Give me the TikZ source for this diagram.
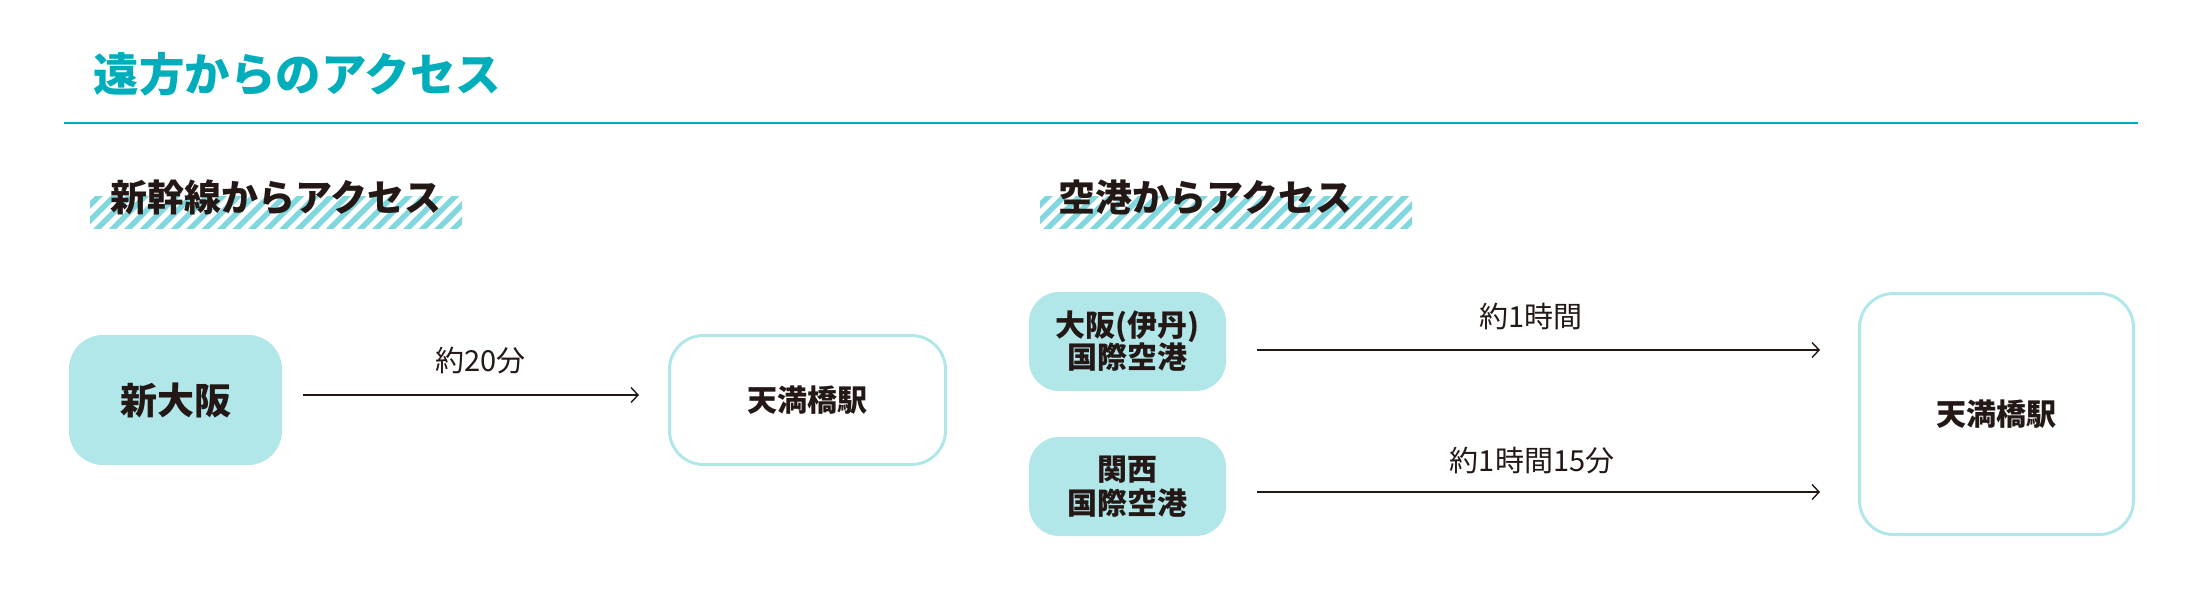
\documentclass[tikz,border=0pt]{standalone}
\usepackage{fontspec}
\setmainfont{Noto Sans CJK JP}
\usetikzlibrary{arrows.meta,calc}
\definecolor{tealmain}{HTML}{00AEBB}
\definecolor{pale}{HTML}{B2E7E9}
\definecolor{stripecol}{HTML}{80D8DE}
\definecolor{ink}{HTML}{231815}
\begin{document}
\begin{tikzpicture}[x=1pt,y=-1pt,
  startbox/.style={fill=pale, rounded corners=34pt, inner sep=0pt, text=ink, align=center},
  endbox/.style={draw=pale, line width=3pt, fill=white, rounded corners=34pt, inner sep=0pt, text=ink,
    font=\fontsize{30}{36}\selectfont\bfseries},
  conn/.style={draw=ink, line width=1.4pt, -{Straight Barb[length=7pt,width=15pt,line width=1.4pt]}},
  lbl/.style={text=ink, inner sep=0pt, font=\fontsize{29}{34}\selectfont},
  heading/.style={text=ink, inner sep=0pt, font=\fontsize{37}{44}\selectfont\bfseries},
  stripeline/.style={draw=stripecol, line width=5.5pt}
]
\useasboundingbox (0,0) rectangle (2194,602);

% title
\node[text=tealmain, inner sep=0pt, font=\fontsize{45.5}{54}\selectfont\bfseries] (title) at (297.5,74) {遠方からのアクセス};
\draw[tealmain, line width=2.5pt] (64,123) -- (2138,123);

% heading stripes
\begin{scope}
  \clip (90,196) rectangle (462,228);
  \foreach \i in {0,...,28} {
    \draw[stripeline] ({62+15.5*\i},233) -- ({104+15.5*\i},191);
  }
\end{scope}
\begin{scope}
  \clip (1040,196) rectangle (1412,228);
  \foreach \i in {0,...,28} {
    \draw[stripeline] ({1012+15.5*\i},233) -- ({1054+15.5*\i},191);
  }
\end{scope}
\node[heading] (h1) at (276,197) {新幹線からアクセス};
\node[heading] (h2) at (1205.5,197) {空港からアクセス};

% left diagram
\node[startbox, minimum width=213pt, minimum height=130pt, font=\fontsize{37}{44}\selectfont\bfseries] (shin) at (175.5,400) {新大阪};
\node[endbox, minimum width=276pt, minimum height=129pt] (tenL) at (807.5,400) {天満橋駅};
\draw[conn] ([xshift=21pt,yshift=5pt]shin.east) -- node[lbl, xshift=9pt, yshift=34pt] {約20分} ([xshift=-29pt,yshift=5pt]tenL.west);

% right diagram
\node[startbox, minimum width=197pt, minimum height=99pt, rounded corners=30pt,
  font=\fontsize{30}{32}\selectfont\bfseries] (itami) at (1127.5,341.5) {大阪(伊丹)\\国際空港};
\node[startbox, minimum width=197pt, minimum height=99pt, rounded corners=30pt,
  font=\fontsize{30}{34}\selectfont\bfseries] (kansai) at (1127.5,486.5) {関西\\国際空港};
\node[endbox, minimum width=274pt, minimum height=241pt] (tenR) at (1996.5,414) {天満橋駅};

\coordinate (p1) at ($(itami.east)+(31,8.5)$);
\coordinate (p2) at ($(kansai.east)+(31,5.5)$);
\draw[conn] (p1) -- node[lbl, xshift=-7.5pt, yshift=34pt] {約1時間} ($(tenR.west|-p1)+(-38,0)$);
\draw[conn] (p2) -- node[lbl, xshift=-6.5pt, yshift=31pt] {約1時間15分} ($(tenR.west|-p2)+(-38,0)$);
\end{tikzpicture}
\end{document}
